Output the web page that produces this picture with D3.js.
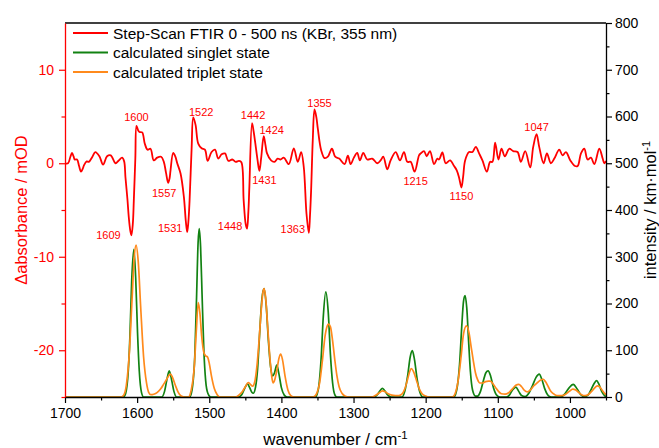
<!DOCTYPE html>
<html>
<head>
<meta charset="utf-8">
<script src="https://cdn.jsdelivr.net/npm/d3@7"></script>
<style>
  body { margin: 0; background: #fff; }
  svg { font-family: "Liberation Sans", Arial, sans-serif; }
</style>
</head>
<body>
<svg id="drawing_region"></svg>
<script>
// Step-Scan FTIR difference spectrum: [wavenumber, delta absorbance / mOD]
const ftirPoints = [
  [1700,0],[1695.8,0],[1692.5,0.7],[1690.3,1.1],[1688,0.7],[1686.6,0.4],[1683.3,0.4],[1680.5,-0.3],
  [1677.8,-0.9],[1675.5,-0.6],[1673.6,-0.2],[1669.9,0.2],[1667,0.15],[1662,0.7],[1657.9,1.2],[1652.3,0.75],
  [1647.2,-0.15],[1641.7,0.75],[1636.6,0.85],[1630,0],[1625.5,0.3],[1620.8,0.6],[1618,0.2],[1616.2,-1.5],
  [1613.5,-3.8],[1611.6,-5.75],[1609.5,-7.2],[1607.9,-7.7],[1606,-6.5],[1604.6,-4],[1602.5,0.5],[1600.9,4.0],
  [1598.5,3.5],[1596.8,3.35],[1593,3.3],[1589.4,2.1],[1585.6,1.45],[1581.5,1.55],[1576.9,0.3],[1572.2,0.6],
  [1566.7,0.7],[1563,0.15],[1560,-1.0],[1557,-2.1],[1555,-1.6],[1553.7,-0.75],[1550,1.1],[1547,0.7],
  [1544.4,0],[1539.8,-1.1],[1535.2,-3.6],[1532.5,-6.2],[1530.6,-7.35],[1529,-6.3],[1527.3,-4],[1524.5,1.5],
  [1522.2,4.9],[1519,4.1],[1515.3,2.1],[1510.6,1.6],[1506,1.45],[1502.3,0.25],[1496.8,1.2],[1492.1,1.45],
  [1487.5,0.5],[1482.9,0.95],[1478.2,1.05],[1473.6,0.25],[1468.1,0.4],[1463.4,0.15],[1458.8,0.25],[1455.5,0.1],
  [1452.3,-4],[1449.5,-6.5],[1447.6,-7],[1445.8,-5.2],[1444.4,-2.5],[1440.7,4.3],[1438.5,3.4],[1436.1,2.1],
  [1433,0.3],[1430.5,-0.8],[1428,0.6],[1424.5,2.9],[1422,1.9],[1419.9,1.05],[1414.3,0.3],[1409.7,0.15],
  [1405.1,0.5],[1401.3,0.4],[1396.7,0.6],[1389.8,-0.1],[1382.8,1.6],[1377.3,0.15],[1372.6,1.2],[1369,-0.4],
  [1365.2,-5.4],[1362,-7.45],[1360.3,-5.5],[1358.8,-2.9],[1356.5,2.5],[1354.1,5.75],[1351.5,4.9],[1349.5,3.7],
  [1344.9,1.4],[1340.2,0.55],[1335.6,0.7],[1330,1.55],[1325.4,0.7],[1319.9,0.5],[1312.5,-0.1],[1307.8,0.8],
  [1304.1,-0.1],[1299.5,0.6],[1294.9,1.1],[1291.2,0.3],[1286.5,1.1],[1281,0.4],[1274.1,0.5],[1267.1,0],
  [1262.5,0.3],[1258.8,0.7],[1253.2,-0.65],[1248.6,0.3],[1241.6,1.2],[1235.6,0.3],[1230.1,1.2],[1225.4,0.15],
  [1220.8,0.15],[1215.3,-0.9],[1209.2,0.85],[1206.9,1.05],[1202.3,1.3],[1198.6,0.75],[1194,1.3],[1188.4,-0.1],
  [1183.8,0.5],[1181.4,0.4],[1176.8,1.15],[1172.2,0],[1166.2,0.3],[1160.6,-0.3],[1156.9,-0.75],[1153.5,-1.6],
  [1150.4,-2.6],[1148,-1.4],[1145.3,0.3],[1139.8,1.2],[1135.1,1.2],[1130.5,1.75],[1125.9,1.05],[1121.3,0.3],
  [1115.2,-0.9],[1110.6,0.15],[1107.4,0.15],[1103.7,2.2],[1099.1,0.4],[1094.9,1.55],[1090.2,0.75],[1084.2,1.55],
  [1078.7,1.3],[1072.6,1.2],[1068,0.15],[1062,1.3],[1055.1,-0.45],[1050.9,1.75],[1046.3,3.1],[1042.6,1.75],
  [1036.5,0],[1031.9,1.05],[1026.4,0],[1021.7,0.5],[1014.8,1.45],[1010.2,0.85],[1005.5,1.2],[999.5,0.3],
  [993,-0.3],[989.3,-0.3],[984.7,1.05],[980.1,1.55],[975.5,0.4],[970.8,0.6],[966.2,-0.1],[959.3,1.55],
  [954.6,0.5],[952.3,0],[950,0.25]
];

// calculated singlet state: [wavenumber, intensity / km mol-1]
const singletPoints = [
  [1700,0],[1620,0],[1617,3],[1613,40],[1610,130],[1607.5,250],[1604.6,316],[1602,255],[1599.5,140],
  [1597,55],[1594,10],[1591,0],[1566,0],[1562,12],[1559,35],[1555.5,56],[1552,35],[1549,12],[1545,0],
  [1527,0],[1523,25],[1520,90],[1517.5,220],[1515.5,330],[1513.9,360],[1512,320],[1510,220],[1507.5,100],
  [1505,35],[1502,8],[1498,0],[1460,0],[1455,5],[1451,18],[1447,28],[1444,20],[1441,10],[1439,8],
  [1436,20],[1433,60],[1430,140],[1427,210],[1424,232],[1421,195],[1418,120],[1415,65],[1412,45],
  [1409.5,52],[1406.5,68],[1403.5,50],[1400,20],[1396,4],[1392,0],[1353,0],[1349,15],[1345,80],
  [1342,170],[1338.5,225],[1335,180],[1332,90],[1329,30],[1326,5],[1323,0],[1272,0],[1267,5],[1263,14],
  [1260,18.5],[1257,14],[1253,5],[1248,0],[1233,0],[1229,12],[1225,45],[1221.5,85],[1218.5,99],
  [1215.5,80],[1212,40],[1208,10],[1204,0],[1161,0],[1157,15],[1153,70],[1150,150],[1147.5,205],
  [1145.4,217],[1143,190],[1140.5,120],[1138,55],[1135,15],[1131,2],[1128,2],[1124,12],[1120,35],
  [1116.5,52],[1113.4,56],[1110,45],[1106,20],[1102,5],[1097,0],[1088,0],[1084,4],[1080,14],[1075,21],
  [1071,12],[1067,3],[1062,1],[1057,8],[1052,24],[1047,42],[1042.6,49],[1039,38],[1035,18],[1031,5],
  [1026,0],[1013,0],[1008,5],[1002,18],[995.4,27],[990,17],[985,5],[980,1],[975,4],[970,18],[966,30],
  [963,35],[960,28],[956,12],[952,3],[950,1]
];

// calculated triplet state: [wavenumber, intensity / km mol-1]
const tripletPoints = [
  [1700,0],[1622,0],[1619,3],[1615,25],[1611,90],[1607,210],[1604,300],[1601.4,325],[1598.5,290],
  [1595,190],[1591,85],[1587,30],[1584,10],[1581,5],[1577,6],[1572,10],[1567,18],[1563,28],[1559,38],
  [1556,46],[1553.7,49],[1551,42],[1547,25],[1543,10],[1539,2],[1535,0],[1529,0],[1525,15],[1521,60],
  [1518,140],[1515.3,202],[1513,180],[1510.5,130],[1507.5,95],[1505,88],[1502.5,86],[1500,72],[1497,45],
  [1493,18],[1489,5],[1485,0],[1463,0],[1459,4],[1454,12],[1450,22],[1446,31],[1443,27],[1440,23],
  [1437,32],[1434,65],[1431,120],[1428,185],[1425.5,225],[1424,232],[1422,215],[1419,150],[1416,85],
  [1413.5,45],[1411.6,30],[1409,38],[1406,60],[1403.5,82],[1401,92],[1398.5,80],[1395,45],[1391,15],
  [1387,3],[1383,0],[1356,0],[1351,8],[1347,30],[1343,80],[1339.5,130],[1336.5,152],[1334.7,156],
  [1332,150],[1329,120],[1326,80],[1323,45],[1320,22],[1316,8],[1312,2],[1308,0],[1275,0],[1270,3],
  [1265,8],[1260,13],[1256,11],[1252,7],[1247,4],[1242,3],[1237,3],[1233,6],[1229,17],[1225,38],
  [1222,55],[1220,61],[1217,55],[1213,37],[1209,18],[1205,7],[1200,2],[1195,0],[1163,0],[1159,8],
  [1155,35],[1151,85],[1147.5,135],[1143.5,152],[1140,138],[1137,108],[1134,78],[1131,52],[1128,37],
  [1125,30],[1121,30],[1117,33],[1113,34],[1110.7,34],[1107,29],[1103,20],[1099,12],[1095,7],[1090,6],
  [1085,9],[1080,17],[1075,25],[1071,27],[1067,22],[1063,14],[1059,11],[1055,15],[1050,24],[1045,31],
  [1041,36],[1037,38],[1034,33],[1030,22],[1026,11],[1021,5],[1016,3],[1011,3],[1006,6],[1001,12],
  [996,17],[992,15],[988,10],[984,5],[979,3],[975,5],[970,12],[966,19],[962,24],[959,22],[955,14],
  [952,8],[950,5]
];

// peak annotations on the FTIR trace
const peakLabels = [
  {text:'1609', wn:1609, kind:'min'}, {text:'1600', wn:1600, kind:'max'},
  {text:'1557', wn:1557, kind:'min'}, {text:'1531', wn:1531, kind:'min'},
  {text:'1522', wn:1522, kind:'max'}, {text:'1448', wn:1448, kind:'min'},
  {text:'1442', wn:1442, kind:'max'}, {text:'1424', wn:1424, kind:'max'},
  {text:'1431', wn:1431, kind:'min'}, {text:'1363', wn:1363, kind:'min'},
  {text:'1355', wn:1355, kind:'max'}, {text:'1215', wn:1215, kind:'min'},
  {text:'1150', wn:1150, kind:'min'}, {text:'1047', wn:1047, kind:'max'}
];

const seriesNames = ['Step-Scan FTIR 0 - 500 ns (KBr, 355 nm)', 'calculated singlet state', 'calculated triplet state'];
const xTicks = [1700, 1600, 1500, 1400, 1300, 1200, 1100, 1000];
const xMinorTicks = [1650, 1550, 1450, 1350, 1250, 1150, 1050, 950];
const leftTicks = [-20, -10, 0, 10];
const leftMinorTicks = [-25, -15, -5, 5];
const rightTicks = [0, 100, 200, 300, 400, 500, 600, 700, 800];
const rightMinorTicks = [50, 150, 250, 350, 450, 550, 650, 750];

class SpectrumChart {

  constructor(config) {
    this.config = config;
    this.init();
  }

  init() {
    let self = this;
    const c = self.config;

    self.svg = d3.select(c.parent)
      .attr('width', c.width)
      .attr('height', c.height);

    self.inner_width = c.width - c.margin.left - c.margin.right;
    self.inner_height = c.height - c.margin.top - c.margin.bottom;

    self.chart = self.svg.append('g')
      .attr('transform', `translate(${c.margin.left}, ${c.margin.top})`);

    self.xscale = d3.scaleLinear().domain([1700, 950]).range([0, self.inner_width]);
    self.yleft = d3.scaleLinear().domain([-25, 15]).range([self.inner_height, 0]);
    self.yright = d3.scaleLinear().domain([0, 800]).range([self.inner_height, 0]);

    self.svg.append('defs').append('clipPath').attr('id', 'plotclip')
      .append('rect')
      .attr('width', self.inner_width)
      .attr('height', self.inner_height);
  }

  render() {
    let self = this;
    const c = self.config;
    const W = self.inner_width, H = self.inner_height;

    const plot = self.chart.append('g').attr('clip-path', 'url(#plotclip)');

    const calcLine = d3.line()
      .x(d => self.xscale(d[0]))
      .y(d => self.yright(d[1]))
      .curve(d3.curveMonotoneX);

    plot.append('path').datum(singletPoints)
      .attr('fill', 'none').attr('stroke', c.colors[1]).attr('stroke-width', 1.7)
      .attr('d', calcLine);

    plot.append('path').datum(tripletPoints)
      .attr('fill', 'none').attr('stroke', c.colors[2]).attr('stroke-width', 1.7)
      .attr('d', calcLine);

    const ftirLine = d3.line()
      .x(d => self.xscale(d[0]))
      .y(d => self.yleft(d[1]))
      .curve(d3.curveCatmullRom.alpha(0.5));

    plot.append('path').datum(ftirPoints)
      .attr('fill', 'none').attr('stroke', c.colors[0]).attr('stroke-width', 1.8)
      .attr('d', ftirLine);

    // peak labels, offsets in px from the extreme point
    const offsets = {
      '1609':[-23,4], '1600':[0,-5], '1557':[-4,14], '1531':[-17,0], '1522':[8,-1],
      '1448':[-17,1], '1442':[1,-4], '1424':[8,-2], '1431':[5,13], '1363':[-16,0],
      '1355':[5,-2], '1215':[1,13], '1150':[0,12], '1047':[0,-3]
    };
    peakLabels.forEach(p => {
      const near = ftirPoints.filter(d => Math.abs(d[0] - p.wn) <= 4);
      const ext = p.kind === 'max' ? d3.greatest(near, d => d[1]) : d3.least(near, d => d[1]);
      const o = offsets[p.text];
      self.chart.append('text')
        .attr('x', self.xscale(ext[0]) + o[0])
        .attr('y', self.yleft(ext[1]) + o[1])
        .attr('text-anchor', 'middle')
        .attr('font-size', '11px')
        .attr('fill', c.colors[0])
        .text(p.text);
    });

    // top frame
    self.chart.append('line')
      .attr('x1', 0).attr('x2', W).attr('y1', 0).attr('y2', 0)
      .attr('stroke', '#000').attr('stroke-width', 1.3);

    // axes
    const styleAxis = (g, color) => {
      g.selectAll('path.domain').attr('stroke', color).attr('stroke-width', 1.3);
      g.selectAll('line').attr('stroke', color).attr('stroke-width', 1.2);
      g.selectAll('text').attr('fill', color).attr('font-size', '14px')
        .attr('font-family', '"Liberation Sans", Arial, sans-serif');
    };
    const fmt = d => d < 0 ? '-' + Math.abs(d) : String(d);

    const xaxis = d3.axisBottom(self.xscale).tickValues(xTicks).tickFormat(fmt)
      .tickSize(6).tickPadding(5).tickSizeOuter(0);
    const xminor = d3.axisBottom(self.xscale).tickValues(xMinorTicks).tickSize(3.5).tickFormat('');
    const gx = self.chart.append('g').attr('transform', `translate(0, ${H})`).call(xaxis);
    const gxm = self.chart.append('g').attr('transform', `translate(0, ${H})`).call(xminor);
    gxm.select('path.domain').remove();
    styleAxis(gx, '#000'); styleAxis(gxm, '#000');

    const yaxis = d3.axisLeft(self.yleft).tickValues(leftTicks).tickFormat(fmt)
      .tickSize(6).tickPadding(5).tickSizeOuter(0);
    const yminor = d3.axisLeft(self.yleft).tickValues(leftMinorTicks).tickSize(3.5).tickFormat('');
    const gy = self.chart.append('g').call(yaxis);
    const gym = self.chart.append('g').call(yminor);
    gym.select('path.domain').remove();
    styleAxis(gy, c.colors[0]); styleAxis(gym, c.colors[0]);

    const raxis = d3.axisRight(self.yright).tickValues(rightTicks).tickFormat(fmt)
      .tickSize(6).tickPadding(3).tickSizeOuter(0);
    const rminor = d3.axisRight(self.yright).tickValues(rightMinorTicks).tickSize(3.5).tickFormat('');
    const gr = self.chart.append('g').attr('transform', `translate(${W}, 0)`).call(raxis);
    const grm = self.chart.append('g').attr('transform', `translate(${W}, 0)`).call(rminor);
    grm.select('path.domain').remove();
    styleAxis(gr, '#000'); styleAxis(grm, '#000');

    // axis titles
    self.svg.append('text')
      .attr('transform', `translate(27, ${c.margin.top + H / 2}) rotate(-90)`)
      .attr('text-anchor', 'middle').attr('font-size', '16.5px').attr('fill', c.colors[0])
      .text('\u0394absorbance / mOD');

    const rt = self.svg.append('text')
      .attr('transform', `translate(656, ${c.margin.top + H / 2}) rotate(-90)`)
      .attr('text-anchor', 'middle').attr('font-size', '16.5px').attr('fill', '#000');
    rt.append('tspan').text('intensity / km\u00b7mol');
    rt.append('tspan').attr('dy', -6).attr('font-size', '11px').text('-1');

    const bt = self.svg.append('text')
      .attr('x', c.margin.left + W / 2).attr('y', 445)
      .attr('text-anchor', 'middle').attr('font-size', '17px').attr('fill', '#000');
    bt.append('tspan').text('wavenumber / cm');
    bt.append('tspan').attr('dy', -6).attr('font-size', '11.5px').text('-1');

    // legend
    const legend = self.chart.append('g').attr('transform', 'translate(8, 10)');
    seriesNames.forEach((name, i) => {
      const row = legend.append('g').attr('transform', `translate(0, ${i * 19.5})`);
      row.append('line').attr('x1', 0).attr('x2', 35).attr('y1', 0).attr('y2', 0)
        .attr('stroke', c.colors[i]).attr('stroke-width', 1.8);
      row.append('text').attr('x', 40).attr('y', 5.5)
        .attr('font-size', '15.5px').attr('fill', '#000').text(name);
    });
  }
}

const chart = new SpectrumChart({
  parent: '#drawing_region',
  width: 659,
  height: 448,
  margin: {top: 23, right: 53, bottom: 51, left: 65},
  colors: ['#ff0000', '#128212', '#ff8a1c']
});
chart.render();
</script>
</body>
</html>
